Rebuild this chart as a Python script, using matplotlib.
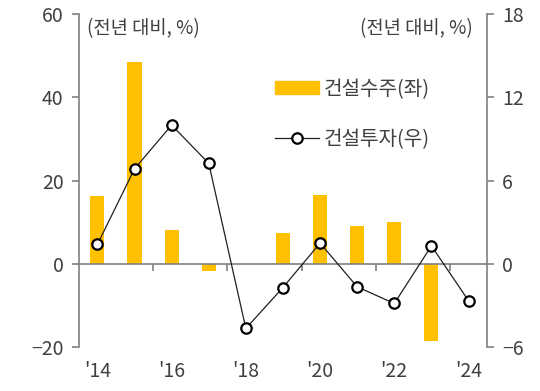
import numpy as np
import matplotlib.pyplot as plt
from matplotlib.patches import Patch
from matplotlib.lines import Line2D

plt.rcParams['font.family'] = ['Noto Sans CJK KR', 'DejaVu Sans']

years = ["'14", "'15", "'16", "'17", "'18", "'19", "'20", "'21", "'22", "'23", "'24"]
orders = [16.3, 48.5, 8.2, -1.6, 0.0, 7.5, 16.6, 9.2, 10.0, -18.5, np.nan]   # 건설수주(좌)
invest = [1.4, 6.85, 10.0, 7.25, -4.65, -1.7, 1.5, -1.65, -2.85, 1.3, -2.65]  # 건설투자(우)

gray = '#808080'
txt = '#404040'

fig = plt.figure(figsize=(5.4, 3.91), dpi=100)
ax = fig.add_subplot(111)
fig.subplots_adjust(left=0.146, right=0.902, top=0.964, bottom=0.112)
ax2 = ax.twinx()

x = np.arange(len(years))
ax.bar(x, orders, width=0.38, color='#FFC000', zorder=2)
ax2.plot(x, invest, color='#202020', lw=0.9, marker='o', ms=7.5,
         mfc='white', mec='black', mew=1.6, zorder=3)

ax.set_xlim(-0.5, len(years) - 0.5)
ax.set_ylim(-20, 60)
ax.set_yticks([-20, 0, 20, 40, 60])
ax.set_yticklabels(['\u221220', '0', '20', '40', '60'])
ax2.set_ylim(-6, 18)
ax2.set_yticks([-6, 0, 6, 12, 18])
ax2.set_yticklabels(['\u22126', '0', '6', '12', '18'])

for a in (ax, ax2):
    a.spines['top'].set_visible(False)
    for s in ('left', 'right', 'bottom'):
        a.spines[s].set_color(gray)
        a.spines[s].set_linewidth(1.2)
ax2.spines['bottom'].set_visible(False)
ax2.spines['left'].set_visible(False)
ax.spines['right'].set_visible(False)
ax.spines['bottom'].set_position(('data', 0))

ax.set_xticks(x[::2])
ax.set_xticklabels(years[::2])
ax.set_xticks(np.arange(1.5, len(years) - 1, 2), minor=True)
ax.tick_params(axis='x', which='major', length=0, pad=70, labelsize=14, labelcolor=txt)
ax.tick_params(axis='x', which='minor', length=5, width=1.2, color=gray, direction='out')
ax.tick_params(axis='y', length=5, width=1.2, color=gray, labelsize=14, labelcolor=txt, pad=6)
ax2.tick_params(axis='y', length=5, width=1.2, color=gray, labelsize=14, labelcolor=txt, pad=6)

ax.text(0.02, 0.955, '(전년 대비, %)', transform=ax.transAxes, fontsize=13.5,
        color=txt, va='center', ha='left')
ax2.text(0.965, 0.955, '(전년 대비, %)', transform=ax.transAxes, fontsize=13.5,
         color=txt, va='center', ha='right')

handles = [Patch(color='#FFC000'),
           Line2D([], [], color='#202020', lw=0.9, marker='o', ms=7.5,
                  mfc='white', mec='black', mew=1.6)]
leg = ax2.legend(handles, ['건설수주(좌)', '건설투자(우)'], loc='upper left',
                 bbox_to_anchor=(0.46, 0.83), frameon=False, fontsize=14.5,
                 handlelength=2.2, handleheight=0.6, labelspacing=1.45,
                 handletextpad=0.25, borderaxespad=0)
for t in leg.get_texts():
    t.set_color(txt)

plt.savefig('out.png', dpi=100)
